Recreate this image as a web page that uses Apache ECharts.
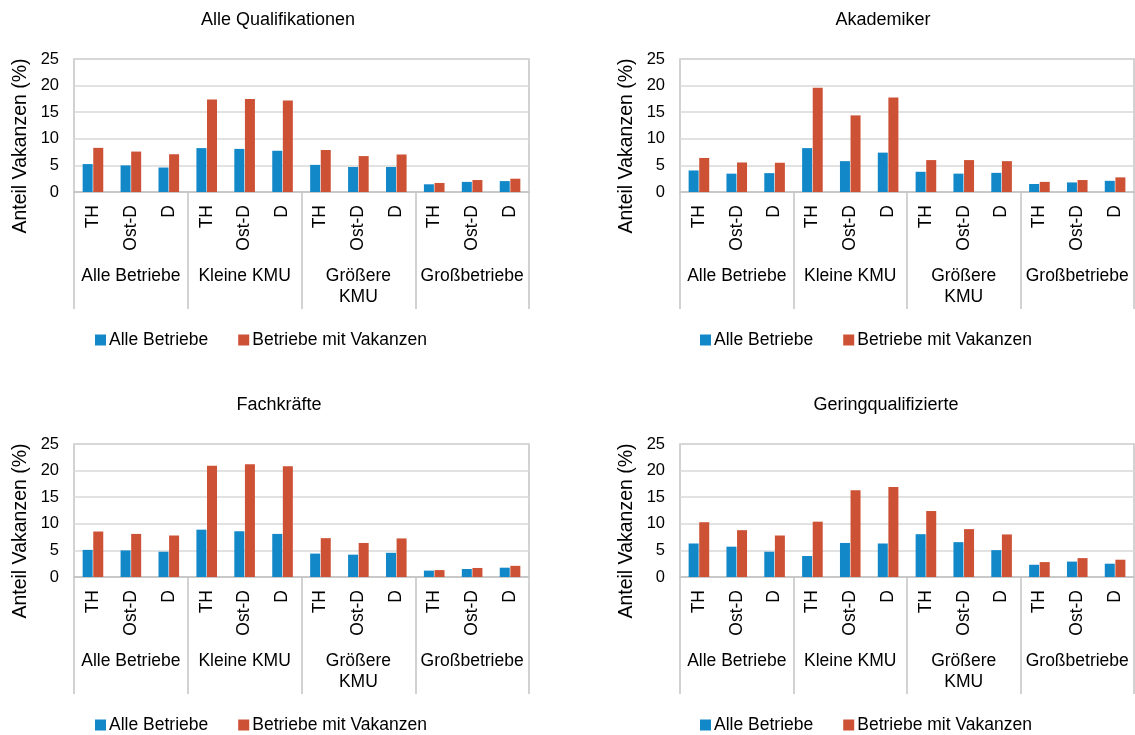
<!DOCTYPE html>
<html>
<head>
<meta charset="utf-8">
<script src="https://cdn.jsdelivr.net/npm/echarts@6/dist/echarts.min.js"></script>
<style>html,body{margin:0;padding:0;background:#fff}#c{width:1135px;height:735px}</style>
</head>
<body>
<div id="c"></div>
<script>
// ---- data ----
var groups = ['Alle Betriebe', 'Kleine KMU', 'Größere\nKMU', 'Großbetriebe'];
var regions = ['TH', 'Ost-D', 'D'];
var seriesNames = ['Alle Betriebe', 'Betriebe mit Vakanzen'];
var panelTitles = ['Alle Qualifikationen', 'Akademiker', 'Fachkräfte', 'Geringqualifizierte'];
var yTitle = 'Anteil Vakanzen (%)';

var alleQualAlle   = [5.25, 5.0, 4.6, 8.25, 8.1, 7.75, 5.1, 4.7, 4.7, 1.45, 1.9, 2.05];
var alleQualVak    = [8.3, 7.6, 7.1, 17.4, 17.5, 17.2, 7.9, 6.75, 7.05, 1.7, 2.25, 2.5];
var akademikerAlle = [4.05, 3.45, 3.55, 8.25, 5.8, 7.4, 3.8, 3.45, 3.6, 1.5, 1.8, 2.1];
var akademikerVak  = [6.4, 5.55, 5.5, 19.6, 14.4, 17.75, 6.0, 6.0, 5.8, 1.9, 2.25, 2.75];
var fachAlle       = [5.1, 5.0, 4.75, 8.9, 8.6, 8.1, 4.4, 4.2, 4.55, 1.2, 1.5, 1.75];
var fachVak        = [8.55, 8.1, 7.8, 20.9, 21.2, 20.8, 7.3, 6.4, 7.25, 1.3, 1.7, 2.1];
var geringAlle     = [6.3, 5.7, 4.75, 3.95, 6.4, 6.3, 8.05, 6.55, 5.05, 2.3, 2.9, 2.5];
var geringVak      = [10.3, 8.8, 7.8, 10.4, 16.3, 16.9, 12.4, 9.0, 8.0, 2.8, 3.55, 3.25];
var yTicks = {min: 0, max: 25, interval: 5};

var panelData = [
  [alleQualAlle, alleQualVak],
  [akademikerAlle, akademikerVak],
  [fachAlle, fachVak],
  [geringAlle, geringVak]
];

// ---- layout / style ----
var colors = ['#1388C8', '#CD5134'];
var FONT = 'Liberation Sans, Arial, sans-serif';
var panels = [
  {left: 74,  top: 59,  width: 455, titleX: 278, legendLeft: 95,  yTitleX: 21,  yTitleY: 146},
  {left: 680, top: 59,  width: 454, titleX: 883, legendLeft: 700, yTitleX: 627, yTitleY: 146},
  {left: 74,  top: 444, width: 455, titleX: 279, legendLeft: 95,  yTitleX: 21,  yTitleY: 531},
  {left: 680, top: 444, width: 454, titleX: 886, legendLeft: 700, yTitleX: 627, yTitleY: 531}
];
var plotH = 133;

var categories = [];
groups.forEach(function () { regions.forEach(function (r) { categories.push(r); }); });

var grid = [], xAxis = [], yAxis = [], series = [], legend = [], graphic = [];
panels.forEach(function (p, i) {
  grid.push({left: p.left, top: p.top, width: p.width, height: plotH,
    show: true, borderColor: '#C4C4C4', borderWidth: 1.5, containLabel: false});
  // inner axis (regions)
  xAxis.push({type: 'category', gridIndex: i, data: categories, position: 'bottom',
    axisLine: {show: false}, axisTick: {show: false},
    axisLabel: {interval: 0, rotate: 90, margin: 13, fontSize: 17.5, color: '#000', fontFamily: FONT}});
  // outer axis (groups)
  xAxis.push({type: 'category', gridIndex: i, data: groups, position: 'bottom',
    axisLine: {show: true, lineStyle: {color: '#C4C4C4', width: 1.5}},
    axisTick: {show: true, interval: 0, length: 117, lineStyle: {color: '#C4C4C4', width: 1.5}},
    axisLabel: {interval: 0, margin: 74, fontSize: 17.5, lineHeight: 21, color: '#000', fontFamily: FONT, align: 'center'}});
  yAxis.push({type: 'value', gridIndex: i, min: yTicks.min, max: yTicks.max, interval: yTicks.interval,
    axisLine: {show: false}, axisTick: {show: false},
    splitLine: {show: true, lineStyle: {color: '#D9D9D9', width: 1.5}},
    axisLabel: {fontSize: 16.5, color: '#000', margin: 15, fontFamily: FONT}});
  panelData[i].forEach(function (vals, s) {
    series.push({type: 'bar', name: seriesNames[s], xAxisIndex: i * 2, yAxisIndex: i,
      data: vals, barWidth: 10, barGap: '6%',
      itemStyle: {color: colors[s]}});
  });
  legend.push({data: seriesNames, left: p.legendLeft, top: p.top + 272, orient: 'horizontal',
    icon: 'rect', itemWidth: 11, itemHeight: 11, itemGap: 30, padding: 0,
    selectedMode: false,
    textStyle: {fontSize: 17.5, color: '#000', fontFamily: FONT, padding: [0, 0, 0, -2]}});
  graphic.push({type: 'text', x: p.titleX, y: p.top - 39,
    style: {text: panelTitles[i], fontSize: 18, fontFamily: FONT, fill: '#000',
      textAlign: 'center', textVerticalAlign: 'middle', align: 'center', verticalAlign: 'middle'}});
  graphic.push({type: 'text', x: p.yTitleX, y: p.yTitleY, rotation: Math.PI / 2,
    style: {text: yTitle, fontSize: 19.5, fontFamily: FONT, fill: '#000',
      textAlign: 'center', textVerticalAlign: 'middle', align: 'center', verticalAlign: 'middle'}});
});

var chart = echarts.init(document.getElementById('c'), null, {renderer: 'canvas'});
chart.setOption({
  animation: false,
  backgroundColor: '#fff',
  textStyle: {fontFamily: FONT},
  grid: grid, xAxis: xAxis, yAxis: yAxis, series: series, legend: legend, graphic: graphic
});
</script>
</body>
</html>
